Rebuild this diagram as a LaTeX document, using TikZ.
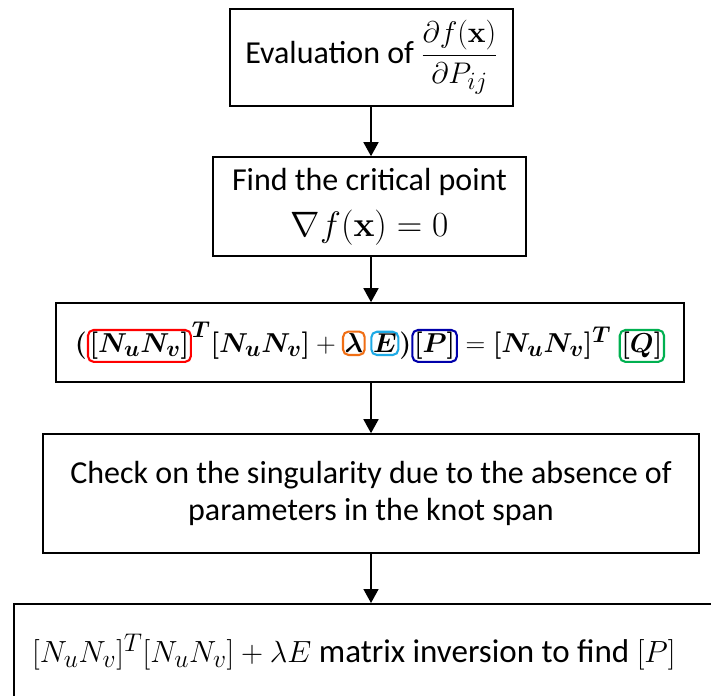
\documentclass[tikz,border=0pt]{standalone}
\usepackage{amsmath,bm,graphicx}
\usepackage[no-math]{fontspec}
\setmainfont{Carlito}
\usetikzlibrary{arrows.meta}
\tikzset{
  box/.style={draw=black,line width=1.6pt,align=center,inner sep=0pt},
  mk/.style={draw=#1,line width=1.9pt,rounded corners=5pt,inner xsep=1.5pt,inner ysep=2pt,outer sep=0pt,minimum width=0pt,minimum height=0pt,align=left},
  arr/.style={line width=1.6pt,-{Triangle[width=15pt,length=14pt]}}
}
\newcommand{\cmark}[2]{\tikz[baseline=(m.base)]\node[mk=#1](m){$#2$};}
\newcommand{\scmath}[2]{\scalebox{#1}{\fontsize{24.88}{30}\selectfont$#2$}}
\definecolor{cred}{RGB}{255,0,0}
\definecolor{corange}{RGB}{240,110,20}
\definecolor{clblue}{RGB}{30,170,230}
\definecolor{cdblue}{RGB}{0,0,170}
\definecolor{cgreen}{RGB}{0,176,80}
\begin{document}
\begin{tikzpicture}[x=1pt,y=-1pt]
\clip (0,0) rectangle (711,695);
\fill[white] (0,0) rectangle (711,695);
\node[box,minimum width=283pt,minimum height=97pt,font=\fontsize{32}{36}\selectfont] (b1) at (371.5,57.5) {Evaluation of \scmath{1.2}{\dfrac{\partial f(\mathbf{x})}{\partial P_{ij}}}};
\node[box,minimum width=313pt,minimum height=99pt,font=\fontsize{32}{36}\selectfont] (b2) at (369.5,206.5) {Find the critical point\\[10pt]\scmath{1.42}{\nabla f(\mathbf{x})=0}};
\node[box,minimum width=628pt,minimum height=79pt] (b3) at (370,342.5) {\scmath{1.1}{\bm{(}\cmark{cred}{\bm{[N_uN_v]}}^{\bm{T}}\bm{[N_uN_v]}+\cmark{corange}{\bm{\lambda}}\,\cmark{clblue}{\bm{E}}\bm{)}\cmark{cdblue}{\bm{[P]}}=\bm{[N_uN_v]}^{\bm{T}}\;\cmark{cgreen}{\bm{[Q]}}}};
\node[box,minimum width=656pt,minimum height=119pt,font=\fontsize{32}{37}\selectfont] (b4) at (371,493.5) {Check on the singularity due to the absence of\\parameters in the knot span};
\node[box,anchor=north west,minimum width=740pt,minimum height=120pt] (b5) at (13,603) {};
\node[font=\fontsize{33}{40}\selectfont,anchor=west,inner sep=0pt] (t5) at (32,652) {\scmath{1.23}{[N_uN_v]^T[N_uN_v]+\lambda E} matrix inversion to find \scmath{1.23}{[P]}};
\draw[arr] (b1.south -| 371,0) -- (b2.north -| 371,0);
\draw[arr] (b2.south -| 371,0) -- (b3.north -| 371,0);
\draw[arr] (b3.south -| 371,0) -- (b4.north -| 371,0);
\draw[arr] (b4.south -| 371,0) -- (b5.north -| 371,0);
\end{tikzpicture}
\end{document}
